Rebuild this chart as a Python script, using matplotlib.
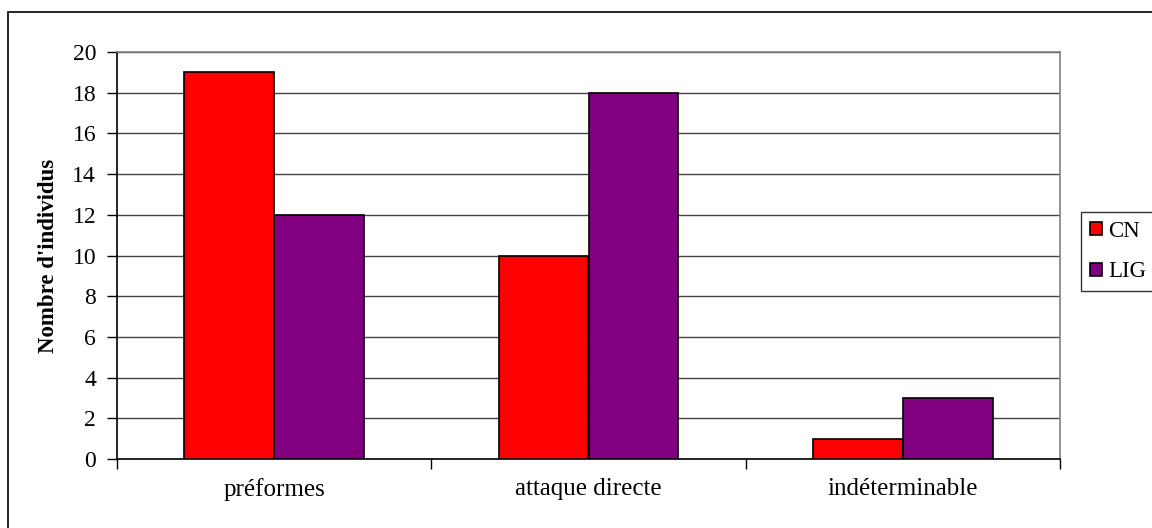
import matplotlib.pyplot as plt
import numpy as np
from matplotlib.patches import Rectangle

plt.rcParams['font.family'] = ['Liberation Serif', 'DejaVu Serif']

categories = ['préformes', 'attaque directe', 'indéterminable']
cn = [19, 10, 1]
lig = [12, 18, 3]
yticks = list(range(0, 21, 2))

fig = plt.figure(figsize=(11.52, 5.28), dpi=100)
ax = fig.add_axes([117 / 1152, 1 - 459 / 528, (1060 - 117) / 1152, (459 - 52) / 528])

# outer chart border (runs off the right and bottom edges)
fig.patches.append(Rectangle((8 / 1152, -0.1), 1.2, 1 - 12 / 528 + 0.1,
                             transform=fig.transFigure, fill=False,
                             edgecolor='black', linewidth=1.2))

x = np.arange(len(categories))
w = 1 / 3.5
ax.bar(x - w / 2, cn, w, color='#ff0000', edgecolor='black', linewidth=1.2, label='CN', zorder=3)
ax.bar(x + w / 2, lig, w, color='#800080', edgecolor='black', linewidth=1.2, label='LIG', zorder=3)

ax.set_xlim(-0.5, len(categories) - 0.5)
ax.set_ylim(0, 20)
ax.set_yticks(yticks)
ax.yaxis.grid(True, color='#444444', linewidth=1.0, zorder=0)
ax.tick_params(axis='y', direction='out', length=7, width=1, labelsize=17, pad=8)

ax.set_xticks(x)
ax.set_xticklabels(categories)
ax.set_xticks(np.arange(-0.5, len(categories), 1), minor=True)
ax.tick_params(axis='x', which='major', length=0, labelsize=18, pad=14)
ax.tick_params(axis='x', which='minor', direction='out', length=7, width=1)

ax.spines['left'].set_color('black')
ax.spines['bottom'].set_color('black')
ax.spines['top'].set_color('#808080')
ax.spines['right'].set_color('#808080')
for s in ax.spines.values():
    s.set_linewidth(1.2)

ax.set_ylabel("Nombre d'individus", fontsize=16.5, fontweight='bold', labelpad=10)

leg = ax.legend(loc='center left', bbox_to_anchor=((1081 - 117) / 943, 0.51), fontsize=16.5,
                frameon=True, fancybox=False, edgecolor='black', handlelength=0.5,
                handleheight=0.5, handletextpad=0.3, borderpad=0.4, labelspacing=0.85,
                borderaxespad=0)
leg.get_frame().set_linewidth(1.0)

fig.savefig('out.png', dpi=100)
